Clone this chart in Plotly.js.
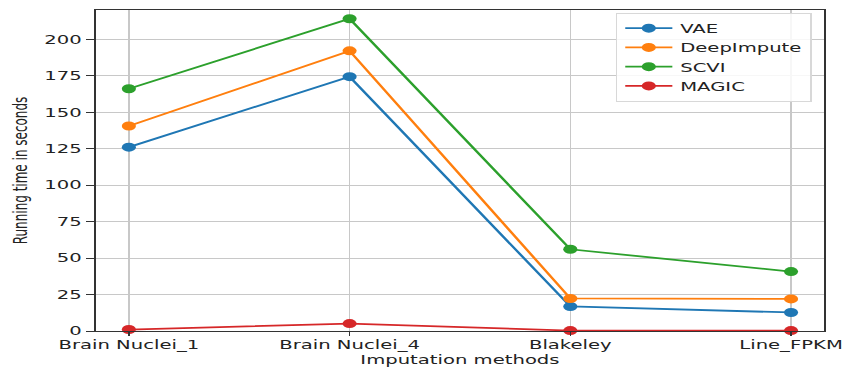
<!DOCTYPE html>
<html>
<head>
<meta charset="utf-8">
<script src="https://cdn.plot.ly/plotly-3.0.1.min.js"></script>
<style>
html, body { margin: 0; padding: 0; background: #fff; overflow: hidden; width: 843px; height: 371px; }
#chart { width: 537px; height: 371px; transform: scale(1.5698, 1); transform-origin: 0 0; }
</style>
</head>
<body>
<div id="chart"></div>
<script>
const categories = ["Brain Nuclei_1", "Brain Nuclei_4", "Blakeley", "Line_FPKM"];
const seriesNames = ["VAE", "DeepImpute", "SCVI", "MAGIC"];
const vae = [126, 174.3, 16.8, 12.7];
const deepImpute = [140.5, 192, 22.3, 22];
const scvi = [166, 214, 56, 40.7];
const magic = [1, 5.1, 0.3, 0.3];
const yTickVals = [0, 25, 50, 75, 100, 125, 150, 175, 200];

const colors = ["#1f77b4", "#ff7f0e", "#2ca02c", "#d62728"];
const values = [vae, deepImpute, scvi, magic];

// The reference image is a horizontally stretched figure: draw at 537px wide
// and stretch the whole page horizontally to 843px.
const traces = values.map((v, i) => ({
  x: [0, 1, 2, 3],
  y: v,
  name: seriesNames[i],
  type: "scatter",
  mode: "lines+markers",
  line: { color: colors[i], width: 1.8 },
  marker: { color: colors[i], size: 9 },
  cliponaxis: false
}));

const tickFont = { family: "DejaVu Sans, sans-serif", size: 12.5, color: "#222" };

const layout = {
  width: 537,
  height: 371,
  margin: { l: 61.2, r: 11.5, t: 10, b: 40 },
  paper_bgcolor: "#fff",
  plot_bgcolor: "#fff",
  showlegend: true,
  legend: {
    x: 0.9834, y: 0.992, xanchor: "right", yanchor: "top",
    bgcolor: "rgba(255,255,255,0.85)",
    bordercolor: "#d8d8d8", borderwidth: 1,
    font: { family: "DejaVu Sans, sans-serif", size: 12.5, color: "#222" },
    itemwidth: 30,
    tracegroupgap: 0
  },
  xaxis: {
    range: [-0.15, 3.15],
    tickmode: "array",
    tickvals: [0, 1, 2, 3],
    ticktext: categories,
    showgrid: true, gridcolor: "#c8c8c8", gridwidth: 1,
    zeroline: false,
    showline: true, linecolor: "#333", linewidth: 1, mirror: true,
    ticks: "outside", ticklen: 4, tickcolor: "#333",
    ticklabelstandoff: -2,
    tickfont: tickFont,
    title: { text: "Imputation methods", font: tickFont, standoff: 2 }
  },
  yaxis: {
    range: [0, 220],
    tickmode: "array",
    tickvals: yTickVals,
    ticktext: yTickVals.map(String),
    showgrid: true, gridcolor: "#c8c8c8", gridwidth: 1,
    zeroline: false,
    showline: true, linecolor: "#333", linewidth: 1, mirror: true,
    ticks: "outside", ticklen: 5.5, tickcolor: "#333",
    tickfont: tickFont,
    title: { text: "Running time in seconds", font: { family: "DejaVu Sans, sans-serif", size: 12, color: "#222" }, standoff: 7 }
  }
};

Plotly.newPlot("chart", traces, layout, { displayModeBar: false, staticPlot: true });
</script>
</body>
</html>
